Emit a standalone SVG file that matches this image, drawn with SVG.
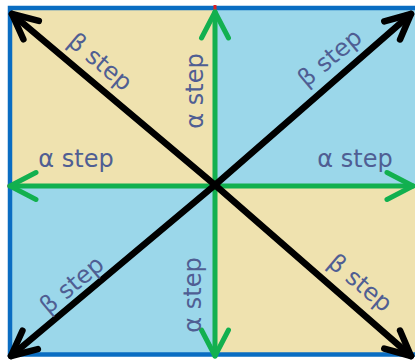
<svg xmlns="http://www.w3.org/2000/svg" width="415" height="361" viewBox="0 0 415 361">
<defs>
<style>
.lbl{font-family:"DejaVu Sans","Liberation Sans",sans-serif;font-size:24px;fill:#4F5E93;text-anchor:middle}
.blk{stroke:#000;stroke-width:6.5;fill:none;stroke-linecap:round}
.grn{stroke:#12B04F;stroke-width:5;fill:none;stroke-linecap:round}
</style>
<marker id="hb" markerUnits="userSpaceOnUse" markerWidth="60" markerHeight="60" refX="0" refY="0" orient="auto" overflow="visible">
<path d="M-25,-12 L0,0 L-25,12" fill="none" stroke="#000" stroke-width="6.5" stroke-linecap="round" stroke-linejoin="round"/>
</marker>
<marker id="hg" markerUnits="userSpaceOnUse" markerWidth="60" markerHeight="60" refX="0" refY="0" orient="auto" overflow="visible">
<path d="M-26,-13.5 L0,0 L-26,13.5" fill="none" stroke="#12B04F" stroke-width="5" stroke-linecap="round" stroke-linejoin="round"/>
</marker>
</defs>
<rect width="415" height="361" fill="#fff"/>
<g id="quadrants">
<rect x="10" y="8" width="205" height="178" fill="#EFE2AF"/>
<rect x="215" y="8" width="205" height="178" fill="#9BD7EA"/>
<rect x="10" y="186" width="205" height="169" fill="#9BD7EA"/>
<rect x="215" y="186" width="205" height="169" fill="#EFE2AF"/>
<rect x="10" y="8" width="420" height="346.5" fill="none" stroke="#0A6DC2" stroke-width="4.5"/>
<rect x="213.5" y="5" width="3" height="5" fill="#E02020"/>
<rect x="7.5" y="184.5" width="4" height="3" fill="#E02020"/>
</g>
<g id="connectors">
<line class="grn" x1="215" y1="186" x2="215" y2="12" marker-end="url(#hg)"/>
<line class="grn" x1="215" y1="186" x2="215" y2="356" marker-end="url(#hg)"/>
<line class="grn" x1="215" y1="186" x2="10" y2="186" marker-end="url(#hg)"/>
<line class="grn" x1="215" y1="186" x2="413" y2="186" marker-end="url(#hg)"/>
<line class="blk" x1="215" y1="185" x2="12" y2="14" marker-end="url(#hb)"/>
<line class="blk" x1="215" y1="185" x2="411" y2="14" marker-end="url(#hb)"/>
<line class="blk" x1="215" y1="185" x2="11" y2="356" marker-end="url(#hb)"/>
<line class="blk" x1="215" y1="185" x2="411" y2="356" marker-end="url(#hb)"/>
</g>
<g id="labels">
<text class="lbl" transform="translate(95,68) rotate(40)">β step</text>
<text class="lbl" transform="translate(335,64) rotate(-40)">β step</text>
<text class="lbl" transform="translate(77,291) rotate(-40)">β step</text>
<text class="lbl" transform="translate(355,289) rotate(40)">β step</text>
<text class="lbl" transform="translate(203,91) rotate(-90)">α step</text>
<text class="lbl" transform="translate(201,295) rotate(-90)">α step</text>
<text class="lbl" x="76" y="167">α step</text>
<text class="lbl" x="355" y="167">α step</text>
</g>
</svg>
